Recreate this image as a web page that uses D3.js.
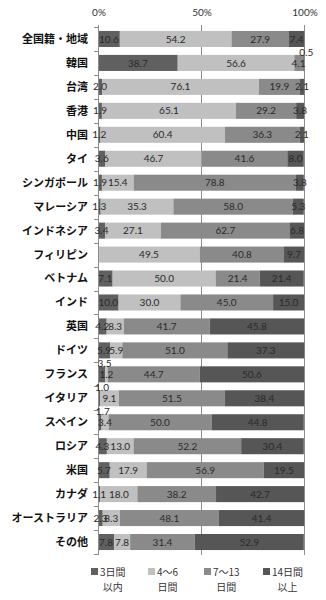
<!DOCTYPE html>
<html><head><meta charset="utf-8">
<script src="https://cdn.jsdelivr.net/npm/d3@7"></script>
<style>body{margin:0;background:#fff}</style>
</head><body>
<script>
const categories = ["全国籍・地域","韓国","台湾","香港","中国","タイ","シンガポール","マレーシア","インドネシア","フィリピン","ベトナム","インド","英国","ドイツ","フランス","イタリア","スペイン","ロシア","米国","カナダ","オーストラリア","その他"];
const seriesNames = [["3日間","以内"],["4～6","日間"],["7～13","日間"],["14日間","以上"]];
const s1 = [10.6,38.7,2.0,1.9,1.2,3.6,1.9,1.3,3.4,0,7.1,10.0,4.2,5.9,3.5,1.0,1.7,4.3,5.7,1.1,2.3,7.8];
const s2 = [54.2,56.6,76.1,65.1,60.4,46.7,15.4,35.3,27.1,49.5,50.0,30.0,8.3,5.9,1.2,9.1,3.4,13.0,17.9,18.0,8.3,7.8];
const s3 = [27.9,4.1,19.9,29.2,36.3,41.6,78.8,58.0,62.7,40.8,21.4,45.0,41.7,51.0,44.7,51.5,50.0,52.2,56.9,38.2,48.1,31.4];
const s4 = [7.4,0.5,2.1,3.8,2.1,8.0,3.8,5.3,6.8,9.7,21.4,15.0,45.8,37.3,50.6,38.4,44.8,30.4,19.5,42.7,41.4,52.9];
const tickLabels = ["0%","50%","100%"];
const tickValues = [0,50,100];
// labels that were moved above the bar in the original
const raised = [["韓国",3],["フランス",0],["イタリア",0],["スペイン",0]];

const colors = ["#606060","#c0c0c0","#8a8a8a","#565656"];
const W=326,H=600;
const svg = d3.select("body").append("svg").attr("width",W).attr("height",H);
const x = d3.scaleLinear().domain([0,100]).range([98,304]);
const y = d3.scaleBand().domain(categories).range([27,554]).paddingInner(0.33).paddingOuter(0.165);
const series=[s1,s2,s3,s4];

// gridlines
svg.append("g").selectAll("line").data(tickValues.slice(1)).join("line")
  .attr("x1",d=>x(d)+0.5).attr("x2",d=>x(d)+0.5).attr("y1",25).attr("y2",555)
  .attr("stroke","#8c8c8c").attr("stroke-width",1);

// bars
const rows = categories.map((c,i)=>{let acc=0;return series.map((s,k)=>{const v=s[i];const o={c,k,v,x0:acc,x1:acc+v};acc+=v;return o;});});
const flat = rows.flat();
svg.append("g").selectAll("rect").data(flat).join("rect")
  .attr("x",d=>x(d.x0)).attr("width",d=>Math.max(0,x(d.x1)-x(d.x0)))
  .attr("y",d=>y(d.c)).attr("height",y.bandwidth())
  .attr("fill",d=>colors[d.k]);

// left axis
const ax = svg.append("g");
ax.append("line").attr("x1",98.5).attr("x2",98.5).attr("y1",25).attr("y2",555).attr("stroke","#8c8c8c");
const bounds = d3.range(categories.length+1).map(i=>27+i*y.step());
ax.selectAll("line.t").data(bounds).join("line").attr("class","t")
  .attr("x1",94).attr("x2",98).attr("y1",d=>Math.round(d)+0.5).attr("y2",d=>Math.round(d)+0.5).attr("stroke","#8c8c8c");
svg.append("g").selectAll("text").data(categories).join("text")
  .attr("x",88).attr("y",d=>y(d)+y.bandwidth()/2).attr("dy","0.36em")
  .attr("text-anchor","end").attr("font-family","'Noto Sans CJK JP'").attr("font-weight","bold")
  .attr("font-size",11).attr("fill","#111").text(d=>d);

// top tick labels
svg.append("g").selectAll("text").data(tickValues).join("text")
  .attr("x",d=>x(d)+1).attr("y",16).attr("text-anchor","middle")
  .attr("font-family","Lato, 'Open Sans', sans-serif").attr("font-size",10).attr("fill","#333")
  .text((d,i)=>tickLabels[i]);

// value labels
const fmt = d3.format(".1f");
const isRaised = d=>raised.some(r=>r[0]===d.c&&r[1]===d.k);
svg.append("g").selectAll("text").data(flat.filter(d=>d.v>0)).join("text")
  .attr("x",d=>x((d.x0+d.x1)/2)+(isRaised(d)?3:0))
  .attr("y",d=>y(d.c)+y.bandwidth()/2-(isRaised(d)?11:0)).attr("dy","0.36em")
  .attr("text-anchor","middle").attr("font-family","Lato, 'Open Sans', sans-serif")
  .attr("font-size",10).attr("fill","#2a2a2a").text(d=>fmt(d.v));

// legend
const lx=[91,148,204,263];
const lg = svg.append("g").selectAll("g").data(seriesNames).join("g");
lg.append("rect").attr("x",(d,i)=>lx[i]).attr("y",568).attr("width",7).attr("height",7).attr("fill",(d,i)=>colors[i]);
lg.each(function(d,i){
  const g=d3.select(this);
  const t1=g.append("text").attr("x",lx[i]+9).attr("y",575.5).attr("font-family","'Noto Sans CJK JP'")
    .attr("font-size",10).attr("fill","#333").text(d[0]);
  const w=t1.node().getComputedTextLength();
  g.append("text").attr("x",lx[i]+9+w/2).attr("y",591).attr("text-anchor","middle").attr("font-family","'Noto Sans CJK JP'")
    .attr("font-size",10).attr("fill","#333").text(d[1]);
});
</script>
</body></html>
